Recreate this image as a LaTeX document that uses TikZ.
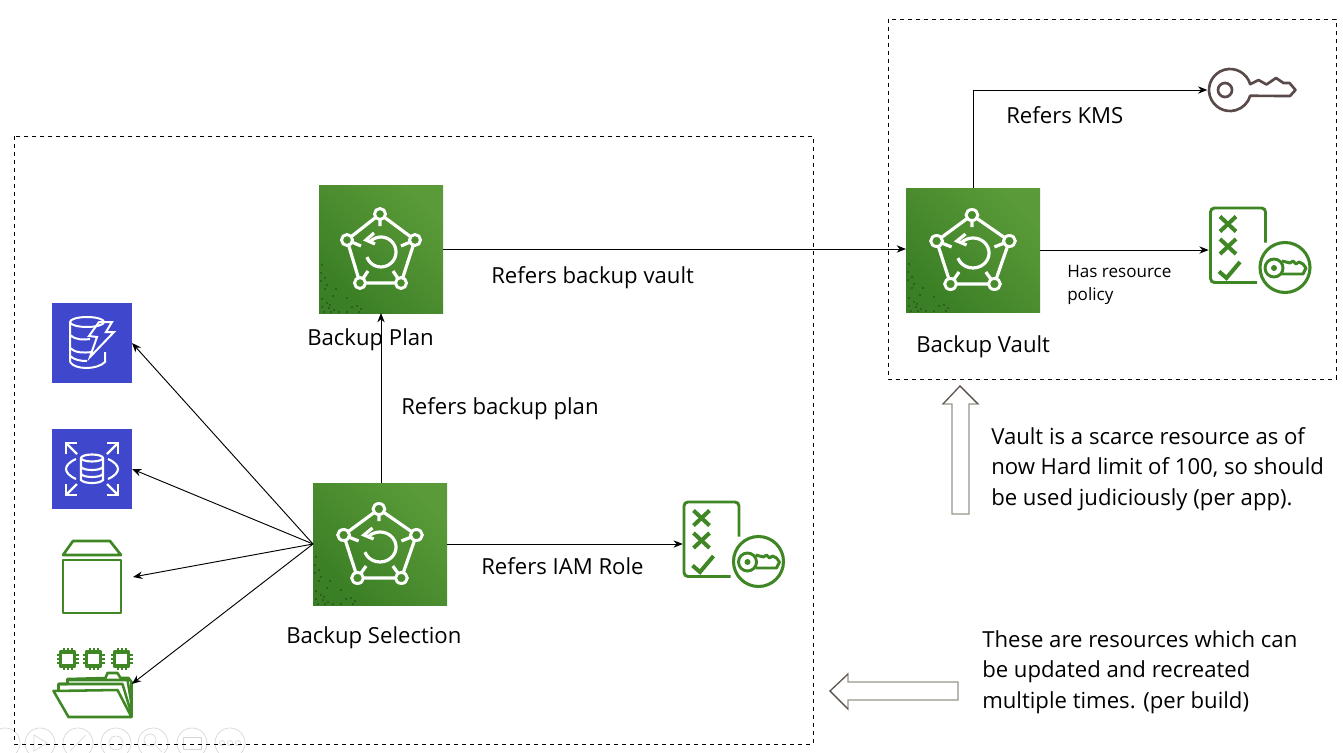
\documentclass[tikz,border=0pt]{standalone}
\usepackage{fontspec}
\setmainfont{Open Sans}
\usetikzlibrary{arrows.meta}

\definecolor{awsgreen}{HTML}{3F8624}
\definecolor{awsdark}{HTML}{3A7E25}
\definecolor{awslight}{HTML}{5A9A38}
\definecolor{awsmid}{HTML}{488C2D}
\definecolor{awsblue}{HTML}{3F48CC}
\definecolor{keybrown}{HTML}{5A4A4A}
\definecolor{hollowgrey}{HTML}{96968A}

\tikzset{
  lbl/.style={anchor=west, inner sep=0pt, font=\fontsize{16.6pt}{23pt}\selectfont, align=left},
  smalllbl/.style={anchor=west, inner sep=0pt, font=\fontsize{12.8pt}{17pt}\selectfont, align=left},
  link/.style={draw=black, line width=0.7pt, -{Stealth[length=7pt,width=5.5pt]}},
  groupbox/.style={draw=black, line width=0.6pt, dashed},
  backupbox/.style={inner sep=0pt, outer sep=0pt, shade, bottom color=awsdark, top color=awslight, shading angle=-45},
  bluebox/.style={inner sep=0pt, outer sep=0pt, fill=awsblue, minimum width=60pt, minimum height=60pt},
  iconbox/.style={inner sep=0pt, outer sep=0pt},
  hollow/.style={draw=hollowgrey, line width=1.1pt, fill=white, line join=miter},
  ghost/.style={draw=black!16, line width=0.5pt},
  pics/backupglyph/.style={code={
    \draw[white, line width=2.4pt, line join=round] (-1,-35) -- (-34,-9) -- (-21,34) -- (20,34) -- (34,-9) -- cycle;
    \draw[white, line width=2.4pt] (-1,-35) -- (-1,-23) (-34,-9) -- (-20,-3) (34,-9) -- (20,-3) (-21,34) -- (-13,22) (20,34) -- (12,22);
    \foreach \nx/\ny in {-1/-35, -34/-9, 34/-9, -21/34, 20/34}
      \draw[white, line width=2.2pt, fill=awsmid] (\nx,\ny) circle (5.5);
    \draw[white, line width=2.4pt] (0,3) ++(225:15) arc (225:520:15);
    \draw[white, line width=2.4pt] (-7,-16) -- (-15,-9) -- (-6,-5);
  }},
  pics/speckle/.style={code={
    \foreach \dx/\dy in {3/-48, 2/-40, 6/-35, 2/-32, 8/-28, 6/-24, 17/-24, 14/-17, 28/-15, 3/-14, 8/-10, 11/-8, 3/-6, 10/-5, 15/-3, 33/-6, 38/-7, 42/-4, 20/-1, 28/-1, 40/-1, 5/-1, 12/-1}
      \fill[black] (\dx,\dy) circle (0.6);
  }},
  pics/dynamoglyph/.style={code={
    \begin{scope}[white, line width=1.5pt]
    \draw (-5,-21) ellipse (17 and 5);
    \draw (-22,-21) -- (-22,19) (-22,-8) .. controls (-17,-3) and (-8,-3) .. (-2,-4);
    \draw (-22,5) .. controls (-17,10) and (-8,10) .. (0,9);
    \draw (-22,19) .. controls (-17,27) and (5,27) .. (13,19) -- (13,9);
    \draw (-22,13) .. controls (-17,17) and (-12,18) .. (-5,18);
    \draw[line join=miter, line width=1.5pt] (7,-21) -- (20,-21) -- (14,-11) -- (22,-11) -- (-2,14) -- (5,-6) -- (-3,-7) -- cycle;
    \end{scope}
  }},
  pics/rdsglyph/.style={code={
    \begin{scope}[white, line width=1.6pt]
    \foreach \sx/\sy in {1/1, -1/1, 1/-1, -1/-1} {
      \draw (15*\sx,15*\sy) -- (26*\sx,26*\sy);
      \draw (26*\sx,15*\sy) -- (26*\sx,26*\sy) -- (15*\sx,26*\sy);
    }
    \draw (-16,-10) .. controls (-23,-7) and (-26,-3) .. (-26,0) .. controls (-26,3) and (-23,7) .. (-16,10);
    \draw (16,-10) .. controls (23,-7) and (26,-3) .. (26,0) .. controls (26,3) and (23,7) .. (16,10);
    \draw (0,-11) ellipse (11 and 3.5);
    \draw (-11,-11) -- (-11,11) .. controls (-8,15) and (8,15) .. (11,11) -- (11,-11);
    \draw (-11,-2) .. controls (-8,2) and (8,2) .. (11,-2);
    \draw (-11,5) .. controls (-8,9) and (8,9) .. (11,5);
    \end{scope}
  }},
  pics/crateglyph/.style={code={
    \begin{scope}[awsgreen, line width=2pt, line join=round]
    \draw (-29,-22) -- (-19,-36) -- (18,-36) -- (29,-22) -- cycle;
    \draw (-29,-17) rectangle (29,36);
    \end{scope}
  }},
  pics/folderglyph/.style={code={
    \begin{scope}[awsgreen, line width=1.9pt, line join=round]
    \foreach \cx in {-25,1,29} {
      \draw[line width=2.4pt] (\cx-7,-32) rectangle (\cx+7,-18);
      \foreach \pin in {-4,0,4} {
        \draw[line width=1.5pt] (\cx+\pin,-36) -- (\cx+\pin,-32) (\cx+\pin,-18) -- (\cx+\pin,-14);
        \draw[line width=1.5pt] (\cx-11,-25+\pin) -- (\cx-7,-25+\pin) (\cx+7,-25+\pin) -- (\cx+11,-25+\pin);
      }
    }
    \draw (-34,6) -- (-34,0) -- (-25,0) -- (-25,-5) -- (13,-6) -- (15,-11) -- (25,-11) -- (28,-6) -- (36,-6) -- (39,-2) -- (39,33);
    \draw (-39,7) -- (25,6) -- (39,33) -- (-24,33) -- cycle;
    \draw (-34,0) -- (30,0) -- (39,30);
    \draw (-25,-4) -- (35,-4) -- (39,20);
    \end{scope}
  }},
  pics/policyglyph/.style={code={
    \begin{scope}[awsgreen, line width=2.2pt]
    \draw[rounded corners=3] (5.5,-7.5) -- (5.5,-42) -- (-49.5,-42) -- (-49.5,32.5) -- (-3,32.5);
    \foreach \xy in {-26,-3.5}
      \draw[line width=3pt] (-40,\xy-7.5) -- (-24,\xy+7.5) (-40,\xy+7.5) -- (-24,\xy-7.5);
    \draw[line width=3pt] (-41,21.5) -- (-33.5,28) -- (-20,12);
    \draw[line width=2.3pt] (25,17.5) circle (25);
    \draw[line width=2.2pt] (14,18) circle (9);
    \fill (14,18) circle (3);
    \draw[line join=round] (22,11) -- (30,13) -- (33,11) -- (36,14) -- (39,12) -- (43,14) -- (46,18) -- (43,24) -- (22,24);
    \end{scope}
  }},
  pics/keyglyph/.style={code={
    \begin{scope}[keybrown, line width=2pt, line join=round]
    \draw (-22.5,0) ++(-16:21) arc (-16:-344:21) -- (37.5,6) -- (43,0) -- (37,-7) -- (31,-7) -- (23.5,-12) -- (14,-5.5) -- (6,-10) -- cycle;
    \draw (-27.5,0) circle (7);
    \end{scope}
  }},
}

\begin{document}
\begin{tikzpicture}[x=0.75pt, y=-0.75pt]
\useasboundingbox (0,0) rectangle (1343,753);

% Faint toolbar at the bottom edge
\foreach \tx in {5,40,78,116,153,192,230}
  \draw[ghost] (\tx,743) circle (15);
\draw[ghost] (34,735) -- (47,743) -- (34,751) -- cycle;
\draw[ghost] (70,751) -- (86,735);
\draw[ghost] (116,743) circle (7);
\draw[ghost] (150,740) circle (6) (154,744) -- (162,752);
\draw[ghost] (183,737) rectangle (201,749);
\foreach \tx in {222,230,238}
  \draw[ghost] (\tx,743) circle (2.5);

% Dashed group boxes
\draw[groupbox] (14,136) rectangle (813,744);
\draw[groupbox] (888,19) rectangle (1336,379);

% Backup boxes
\node[backupbox, minimum width=93pt, minimum height=96pt] (plan) at (381,249) {};
\node[backupbox, minimum width=100.5pt, minimum height=91.5pt] (selection) at (380,544) {};
\node[backupbox, minimum width=100.5pt, minimum height=93pt] (vault) at (973,250) {};
\pic at (plan) {backupglyph};
\pic[xscale=1.07] at (selection) {backupglyph};
\pic[xscale=1.07] at (vault) {backupglyph};
\pic at (plan.south west) {speckle};
\pic at (selection.south west) {speckle};
\pic at (vault.south west) {speckle};

% Resources on the left
\node[bluebox] (dynamo) at (92,343) {};
\pic at (dynamo) {dynamoglyph};
\node[bluebox] (rds) at (92,469) {};
\pic at (rds) {rdsglyph};
\node[iconbox, minimum width=60pt, minimum height=55.5pt] (crate) at (93,577) {};
\pic at (92,577) {crateglyph};
\node[iconbox, minimum width=59pt, minimum height=51pt] (folder) at (92.5,684) {};
\pic at (folder) {folderglyph};

% Policy and key icons
\node[iconbox, minimum width=76pt, minimum height=65pt] (rolepolicy) at (733.5,544) {};
\pic at (rolepolicy) {policyglyph};
\node[iconbox, minimum width=77pt, minimum height=65pt] (vaultpolicy) at (1260,250) {};
\pic at (vaultpolicy) {policyglyph};
\node[iconbox, minimum width=67pt, minimum height=34pt] (kmskey) at (1252,90) {};
\pic at (1252.5,90) {keyglyph};

% Connectors
\draw[link] (plan.east |- plan) -- (vault.west |- plan);
\draw[link] (selection.north -| plan) -- (plan.south);
\draw[link] (selection.east) -- (rolepolicy.west);
\draw[link] (selection.west) -- (dynamo.east);
\draw[link] (selection.west) -- (rds.east);
\draw[link] (selection.west) -- (crate.east);
\draw[link] (selection.west) -- (folder.east);
\draw[link] (vault.north) |- (kmskey.west);
\draw[link] (vault.east) -- (vaultpolicy.west);

% Hollow arrows
\draw[hollow] (952,514) -- (952,404) -- (943,404) -- (960,386) -- (978,404) -- (969,404) -- (969,514) -- cycle;
\draw[draw=keybrown, line width=0.6pt] (943,404) -- (960,386) -- (978,404);
\draw[hollow] (958,682) -- (848,682) -- (848,674) -- (830,691) -- (848,709) -- (848,700) -- (958,700) -- cycle;
\draw[draw=keybrown, line width=0.6pt] (848,674) -- (830,691) -- (848,709);

% Labels
\node[lbl] (plantext) at (307,340) {Backup Plan};
\node[lbl] (selectiontext) at (286,638) {Backup Selection};
\node[lbl] (vaulttext) at (916,347) {Backup Vault};
\node[lbl] (refvault) at (491,278) {Refers backup vault};
\node[lbl] (refplan) at (401,409) {Refers backup plan};
\node[lbl] (refrole) at (481,566) {Refers IAM Role};
\node[lbl] (refkms) at (1006,115) {Refers KMS};
\node[smalllbl] (hasres) at (1067,285) {Has resource\\policy};
\node[lbl] (scarce) at (991,469) {Vault is a scarce resource as of\\now Hard limit of 100, so should\\be used judiciously (per app).};
\node[lbl] (perbuild) at (982,672) {These are resources which can\\be updated and recreated\\multiple times. (per build)};
\end{tikzpicture}
\end{document}
